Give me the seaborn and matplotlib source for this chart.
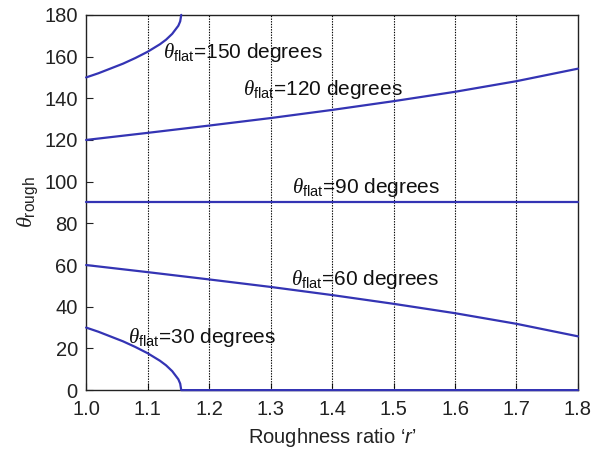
import matplotlib
matplotlib.use("Agg")
import matplotlib.pyplot as plt
import seaborn as sns
import pandas as pd

# Data (roughness ratio r vs theta_rough, degrees)
r_150 = [1.00, 1.02, 1.04, 1.06, 1.08, 1.10, 1.12, 1.13, 1.14, 1.15, 1.153, 1.1547]
t_150 = [150.0, 152.0, 154.3, 156.6, 159.3, 162.3, 165.9, 168.1, 170.9, 174.8, 176.9, 180.0]

r_120 = [1.0, 1.1, 1.2, 1.3, 1.4, 1.5, 1.6, 1.7, 1.8]
t_120 = [120.0, 123.4, 126.9, 130.5, 134.4, 138.6, 143.1, 148.2, 154.2]

r_90 = [1.0, 1.8]
t_90 = [90.0, 90.0]

r_60 = [1.0, 1.1, 1.2, 1.3, 1.4, 1.5, 1.6, 1.7, 1.8]
t_60 = [60.0, 56.6, 53.1, 49.5, 45.6, 41.4, 36.9, 31.8, 25.8]

r_30 = [1.00, 1.02, 1.04, 1.06, 1.08, 1.10, 1.12, 1.13, 1.14, 1.15, 1.153, 1.1547, 1.8]
t_30 = [30.0, 28.0, 25.7, 23.4, 20.7, 17.7, 14.1, 11.9, 9.1, 5.2, 3.1, 0.0, 0.0]

labels = ["150", "120", "90", "60", "30"]
label_x = [1.125, 1.255, 1.335, 1.333, 1.068]
label_y = [162, 144, 97, 53, 25]

x_ticks = [1.0, 1.1, 1.2, 1.3, 1.4, 1.5, 1.6, 1.7, 1.8]
y_ticks = [0, 20, 40, 60, 80, 100, 120, 140, 160, 180]

sns.set_theme(style="white")
plt.rcParams["font.family"] = ["Liberation Sans", "DejaVu Sans"]
plt.rcParams["mathtext.fontset"] = "custom"
plt.rcParams["mathtext.rm"] = "Liberation Sans"
plt.rcParams["mathtext.it"] = "Liberation Serif:italic"
plt.rcParams["mathtext.sf"] = "Liberation Sans:italic"

fig = plt.figure(figsize=(5.94, 4.51), dpi=100)
ax = fig.add_axes([0.145, 0.135, 0.828, 0.832])

color = "#3434b4"
series = [(r_150, t_150), (r_120, t_120), (r_90, t_90), (r_60, t_60), (r_30, t_30)]
for (rx, ty), lab in zip(series, labels):
    df = pd.DataFrame({"r": rx, "theta": ty})
    sns.lineplot(data=df, x="r", y="theta", ax=ax, color=color, lw=1.6,
                 sort=False, estimator=None, clip_on=False, zorder=3)

for lab, lx, ly in zip(labels, label_x, label_y):
    ax.text(lx, ly, r"$\theta_{\mathrm{flat}}$=" + lab + " degrees",
            fontsize=15, va="center", ha="left", color="#111111", zorder=4)

ax.set_xlim(1.0, 1.8)
ax.set_ylim(0, 180)
ax.set_xticks(x_ticks)
ax.set_xticklabels([f"{v:.1f}" for v in x_ticks])
ax.set_yticks(y_ticks)
for v in x_ticks[1:-1]:
    ax.axvline(v, color="black", lw=0.8, ls=(0, (1.2, 1.2)), zorder=1)

ax.tick_params(direction="in", length=5, width=0.8, labelsize=14.5,
               colors="#222222", pad=6, bottom=True, left=True)
ax.tick_params(axis="x", pad=7)
for sp in ax.spines.values():
    sp.set_color("#222222")
    sp.set_linewidth(1.0)

ax.set_xlabel(r"Roughness ratio ‘$\mathsf{r}$’", fontsize=14.5, color="#222222", labelpad=5)
ax.set_ylabel(r"$\theta_{\mathrm{rough}}$", fontsize=16, color="#222222", labelpad=3)

fig.savefig("out.png", dpi=100)
